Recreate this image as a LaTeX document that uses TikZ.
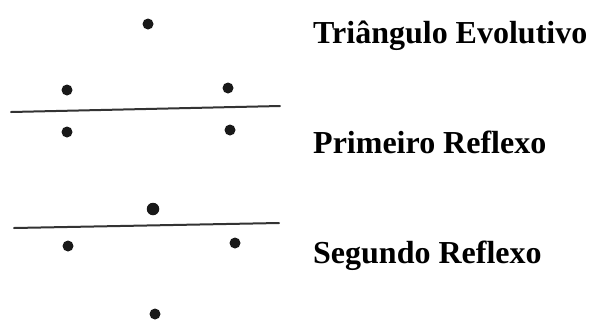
\documentclass[tikz,border=0pt]{standalone}
\usepackage{fontspec}
\setmainfont{Liberation Serif}
\usetikzlibrary{calc}

\begin{document}
\begin{tikzpicture}[x=1pt,y=-1pt,dot/.style={circle,fill=black!90,inner sep=0pt,minimum size=11pt},bigdot/.style={dot,minimum size=12.5pt},mirror/.style={line width=2pt,black!80,line cap=round},caption/.style={anchor=base west,inner sep=0pt,font=\fontsize{32}{36}\selectfont\bfseries}]
  \useasboundingbox (0,0) rectangle (591,325);

  \node[dot] (apex) at (148,24) {};
  \node[dot] (upper left) at (67,90) {};
  \node[dot] (upper right) at (228,88) {};
  \node[dot] (first left) at (67,132) {};
  \node[dot] (first right) at (230,130) {};
  \node[bigdot] (first apex) at (153,209) {};
  \node[dot] (second left) at (68,246) {};
  \node[dot] (second right) at (235,243) {};
  \node[dot] (second apex) at (155,314) {};

  \coordinate (mirror1 west) at (11,112);
  \coordinate (mirror1 east) at (280,106);
  \coordinate (mirror2 west) at (14,228);
  \coordinate (mirror2 east) at (279,223);
  \draw[mirror] (mirror1 west) -- (mirror1 east);
  \draw[mirror] (mirror2 west) -- (mirror2 east);

  \node[caption] (triangle) at (313,43) {Triângulo Evolutivo};
  \node[caption] (reflex1) at (313,153) {Primeiro Reflexo};
  \node[caption] (reflex2) at (313,263) {Segundo Reflexo};
\end{tikzpicture}
\end{document}
